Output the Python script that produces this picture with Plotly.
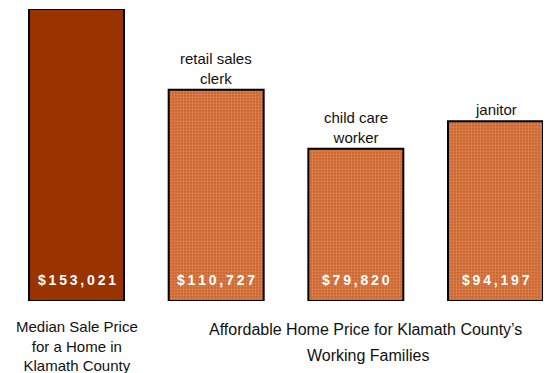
import plotly.graph_objects as go

categories = ["median", "retail", "childcare", "janitor"]
values = [153021, 110727, 79820, 94197]
top_labels = ["", "retail sales<br>clerk", "child care<br>worker", "janitor"]
bottom_label_median = "Median Sale Price<br>for a Home in<br>Klamath County"
bottom_label_afford_1 = "Affordable Home Price for Klamath County\u2019s"
bottom_label_afford_2 = "Working Families"

FONT = "Liberation Sans, Arial, sans-serif"
THIN = "\u2009"

def spaced(v):
    return THIN.join(list(f"${v:,}"))

# page is offset by the default 8px body margin
OFF = 8
W, Hh = 551 - OFF, 373 - OFF
PLOT_TOP, PLOT_BOT = 9 - OFF, 301 - OFF
H = PLOT_BOT - PLOT_TOP
C0 = 76.5 - OFF
STEP = 139.67

fig = go.Figure()
fig.add_trace(go.Bar(
    x=categories[:1], y=values[:1], width=0.68,
    marker=dict(color="#993300", line=dict(color="#000000", width=2)),
    hoverinfo="skip",
))
fig.add_trace(go.Bar(
    x=categories[1:], y=values[1:], width=0.68,
    marker=dict(color="#C9622C", line=dict(color="#000000", width=2),
                pattern=dict(shape=".", size=3, solidity=0.45,
                             fgcolor="#F2A878", bgcolor="#C9622C")),
    hoverinfo="skip",
))

annotations = []
for c, v, t in zip(categories, values, top_labels):
    annotations.append(dict(x=c, y=0, xref="x", yref="y", yanchor="bottom",
                            yshift=11, text=spaced(v), showarrow=False,
                            font=dict(family=FONT, size=14, color="white", weight="bold")))
    if t:
        annotations.append(dict(x=c, y=v, xref="x", yref="y", yanchor="bottom",
                                yshift=1, text=t, showarrow=False,
                                font=dict(family=FONT, size=15, color="#111111")))

def py(pagepix):
    return (PLOT_BOT - (pagepix - OFF)) / H

def px(pagepix):
    return (pagepix - OFF) / W

annotations.append(dict(x=categories[0], y=py(316), xref="x", yref="paper", yanchor="top",
                        text=bottom_label_median, showarrow=False,
                        font=dict(family=FONT, size=15, color="#111111")))
annotations.append(dict(x=px(365), y=py(319), xref="paper", yref="paper", yanchor="top",
                        text=bottom_label_afford_1, showarrow=False,
                        font=dict(family=FONT, size=16, color="#111111")))
annotations.append(dict(x=px(368), y=py(345), xref="paper", yref="paper", yanchor="top",
                        text=bottom_label_afford_2, showarrow=False,
                        font=dict(family=FONT, size=16, color="#111111")))

fig.update_layout(
    width=W, height=Hh,
    margin=dict(l=0, r=0, t=PLOT_TOP, b=Hh - PLOT_BOT, pad=0),
    paper_bgcolor="white", plot_bgcolor="white",
    showlegend=False,
    xaxis=dict(type="category", range=[-C0/STEP, (W - C0)/STEP],
               showticklabels=False, showgrid=False, zeroline=False, showline=False),
    yaxis=dict(range=[0, values[0]], showticklabels=False, showgrid=False,
               zeroline=False, showline=False),
    annotations=annotations,
)
fig.write_html("out.html")
